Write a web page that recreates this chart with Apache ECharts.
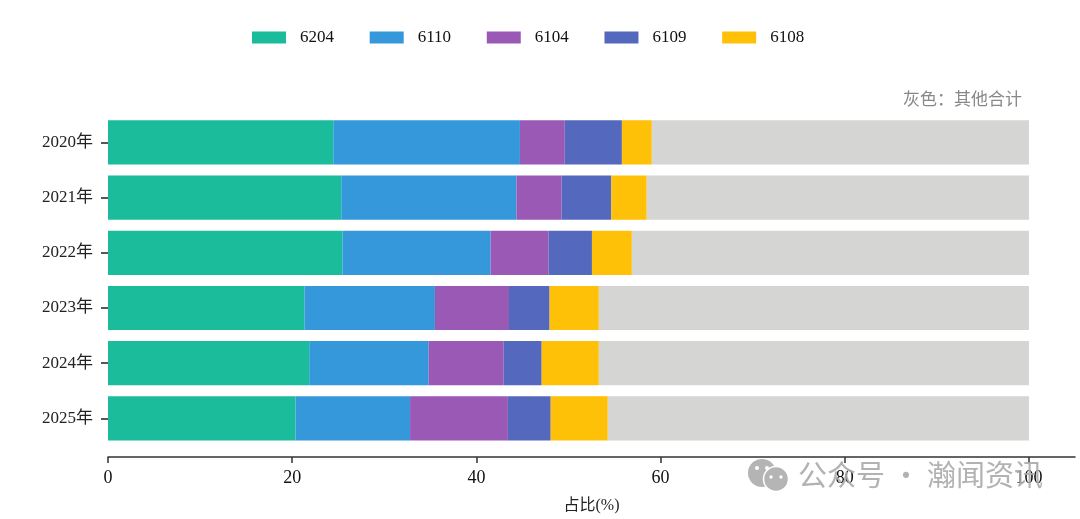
<!DOCTYPE html>
<html>
<head>
<meta charset="utf-8">
<style>
    html, body { margin: 0; padding: 0; background: #fff; }
    #chart { width: 1080px; height: 519px; }
</style>
<script src="https://cdn.jsdelivr.net/npm/echarts@6/dist/echarts.min.js"></script>
</head>
<body>
<div id="chart"></div>
<script>
const years = ['2020年', '2021年', '2022年', '2023年', '2024年', '2025年'];
const xTicks = [0, 20, 40, 60, 80, 100];

const v6204 = [24.46, 25.33, 25.47, 21.33, 21.85, 20.36];
const v6110 = [20.27, 19.02, 16.08, 14.17, 12.97, 12.44];
const v6104 = [4.87, 4.91, 6.29, 8.04, 8.15, 10.62];
const v6109 = [6.2, 5.39, 4.71, 4.41, 4.12, 4.65];
const v6108 = [3.25, 3.85, 4.33, 5.35, 6.21, 6.2];
const vOther = [40.95, 41.5, 43.12, 46.7, 46.7, 45.73];

const legendNames = ['6204', '6110', '6104', '6109', '6108'];

const serif = '"Liberation Serif", "Noto Sans CJK SC", serif';
const song = '"Noto Sans CJK SC", sans-serif';

function bar(name, data, color) {
    return {
        name: name,
        type: 'bar',
        stack: 'total',
        data: data,
        barCategoryGap: '20%',
        itemStyle: { color: color },
        silent: true
    };
}

const myChart = echarts.init(document.getElementById('chart'));

myChart.setOption({
    animation: false,
    legend: {
        data: legendNames,
        icon: 'rect',
        left: 247,
        top: 24,
        itemWidth: 34,
        itemHeight: 12,
        itemGap: 35.7,
        textStyle: { color: '#111', fontSize: 17, fontFamily: serif, padding: [0, 0, 0, 9] }
    },
    title: {
        text: '灰色：其他合计',
        right: 53,
        top: 85,
        textStyle: { color: '#888', fontSize: 17, fontWeight: 'normal', fontFamily: song }
    },
    grid: { left: 108, top: 114.8, width: 967, height: 332 },
    xAxis: {
        type: 'value',
        min: 0,
        max: 105,
        offset: 11,
        name: '占比(%)',
        nameLocation: 'middle',
        nameGap: 41,
        nameTextStyle: { color: '#222', fontSize: 16, fontFamily: serif },
        splitLine: { show: false },
        axisLine: { show: true, lineStyle: { color: '#333', width: 1.5 } },
        axisTick: { show: true, length: 6, customValues: xTicks, lineStyle: { color: '#333', width: 1.5 } },
        axisLabel: { color: '#111', fontSize: 18, fontFamily: serif, margin: 12, customValues: xTicks }
    },
    yAxis: {
        type: 'category',
        inverse: true,
        data: years,
        axisLine: { show: false },
        axisTick: { show: true, alignWithLabel: true, length: 7, lineStyle: { color: '#222', width: 1.5 } },
        axisLabel: { color: '#222', fontSize: 17, fontFamily: serif, margin: 15, padding: [3, 0, 0, 0] }
    },
    series: [
        bar('6204', v6204, '#1abc9c'),
        bar('6110', v6110, '#3498db'),
        bar('6104', v6104, '#9b59b6'),
        bar('6109', v6109, '#5468bd'),
        bar('6108', v6108, '#ffc107'),
        bar('其他', vOther, '#d5d5d3')
    ],
    graphic: [
        { type: 'circle', z: 100, shape: { cx: 762, cy: 473, r: 14 }, style: { fill: '#b4b4b4' } },
        { type: 'circle', z: 101, shape: { cx: 776, cy: 479, r: 12.5 }, style: { fill: '#b4b4b4', stroke: '#fff', lineWidth: 1.5 } },
        { type: 'circle', z: 102, shape: { cx: 757, cy: 468, r: 2 }, style: { fill: '#fff' } },
        { type: 'circle', z: 102, shape: { cx: 767, cy: 468, r: 2 }, style: { fill: '#fff' } },
        { type: 'circle', z: 102, shape: { cx: 771, cy: 477, r: 1.7 }, style: { fill: '#fff' } },
        { type: 'circle', z: 102, shape: { cx: 781, cy: 477, r: 1.7 }, style: { fill: '#fff' } },
        {
            type: 'text',
            z: 100,
            left: 798,
            top: 460,
            style: {
                text: '公众号 · 瀚闻资讯',
                fill: 'rgba(170,170,170,0.9)',
                fontSize: 29,
                fontFamily: song
            }
        }
    ]
});
</script>
</body>
</html>
